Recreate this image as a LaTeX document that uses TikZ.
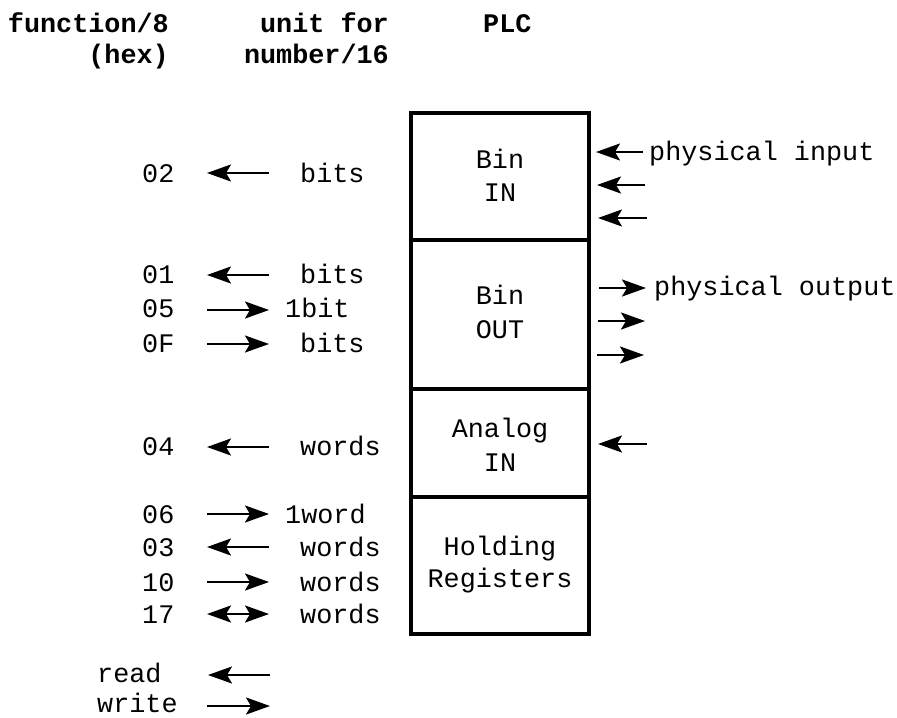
\documentclass[tikz,border=0pt]{standalone}
\usepackage{fontspec}
\setmainfont{Liberation Mono}
\usetikzlibrary{arrows.meta}

\tikzset{every picture/.style={line width=1.2pt}}
\tikzset{
  txt/.style={inner sep=0pt,font=\fontsize{13.4}{16}\selectfont},
  hdr/.style={txt,font=\fontsize{13.4}{16}\selectfont\bfseries},
  >={Stealth[length=12pt,width=8.5pt,inset=2.5pt]}
}

\begin{document}
\begin{tikzpicture}[x=0.5pt,y=0.5pt,yscale=-1,xscale=1]
\useasboundingbox (0,0) rectangle (897,717);

%Headers
\draw (170,33) node [hdr,anchor=base east] (hfun) {function/8};
\draw (170,64) node [hdr,anchor=base east] (hhex) {(hex)};
\draw (390,33) node [hdr,anchor=base east] (hunit) {unit for};
\draw (390,64) node [hdr,anchor=base east] (hnum) {number/16};
\draw (482,33) node [hdr,anchor=base west] (hplc) {PLC};

%Shape: PLC memory block
\draw [line width=1.6pt] (411,113) rectangle (589,634);
\draw [line width=1.6pt] (411,240) -- (589,240);
\draw [line width=1.6pt] (411,389) -- (589,389);
\draw [line width=1.6pt] (411,497) -- (589,497);

% Block labels
\draw (500,168) node [txt,anchor=base] (binin) {Bin};
\draw (500,201) node [txt,anchor=base] (binin2) {IN};
\draw (500,304) node [txt,anchor=base] (binout) {Bin};
\draw (500,338) node [txt,anchor=base] (binout2) {OUT};
\draw (500,437) node [txt,anchor=base] (anain) {Analog};
\draw (500,471) node [txt,anchor=base] (anain2) {IN};
\draw (500,555) node [txt,anchor=base] (hold) {Holding};
\draw (500,587) node [txt,anchor=base] (hold2) {Registers};

% Function codes
\draw (141,182) node [txt,anchor=base west] (f02) {02};
\draw (141,283) node [txt,anchor=base west] (f01) {01};
\draw (141,317) node [txt,anchor=base west] (f05) {05};
\draw (141,352) node [txt,anchor=base west] (f0F) {0F};
\draw (141,455) node [txt,anchor=base west] (f04) {04};
\draw (141,523) node [txt,anchor=base west] (f06) {06};
\draw (141,556) node [txt,anchor=base west] (f03) {03};
\draw (141,591) node [txt,anchor=base west] (f10) {10};
\draw (141,623) node [txt,anchor=base west] (f17) {17};

% Units
\draw (299,182) node [txt,anchor=base west] (u02) {bits};
\draw (299,283) node [txt,anchor=base west] (u01) {bits};
\draw (284,317) node [txt,anchor=base west] (u05) {1bit};
\draw (299,352) node [txt,anchor=base west] (u0F) {bits};
\draw (299,455) node [txt,anchor=base west] (u04) {words};
\draw (284,523) node [txt,anchor=base west] (u06) {1word};
\draw (299,556) node [txt,anchor=base west] (u03) {words};
\draw (299,591) node [txt,anchor=base west] (u10) {words};
\draw (299,623) node [txt,anchor=base west] (u17) {words};

% Legend
\draw (96,682) node [txt,anchor=base west] (lread) {read};
\draw (96,712) node [txt,anchor=base west] (lwrite) {write};

%Straight Lines: request arrows
\draw [->] (269,173) -- (207,173);
\draw [->] (269,275) -- (207,275);
\draw [->] (207,310) -- (269,310);
\draw [->] (207,344) -- (269,344);
\draw [->] (269,447) -- (207,447);
\draw [->] (207,514) -- (269,514);
\draw [->] (269,547) -- (207,547);
\draw [->] (207,582) -- (269,582);
\draw [<->] (207,614) -- (269,614);
\draw [->] (270,675) -- (208,675);
\draw [->] (207,706) -- (270,706);

%Straight Lines: physical side
\draw [->] (643,152) -- (596,152);
\draw [->] (645,185) -- (597,185);
\draw [->] (647,218) -- (598,218);
\draw [->] (599,288) -- (646,288);
\draw [->] (598,321) -- (645,321);
\draw [->] (597,355) -- (644,355);
\draw [->] (647,444) -- (598,444);

% Text Node
\draw (648,160) node [txt,anchor=base west] (pin) {physical input};
\draw (653,295) node [txt,anchor=base west] (pout) {physical output};

\end{tikzpicture}
\end{document}
